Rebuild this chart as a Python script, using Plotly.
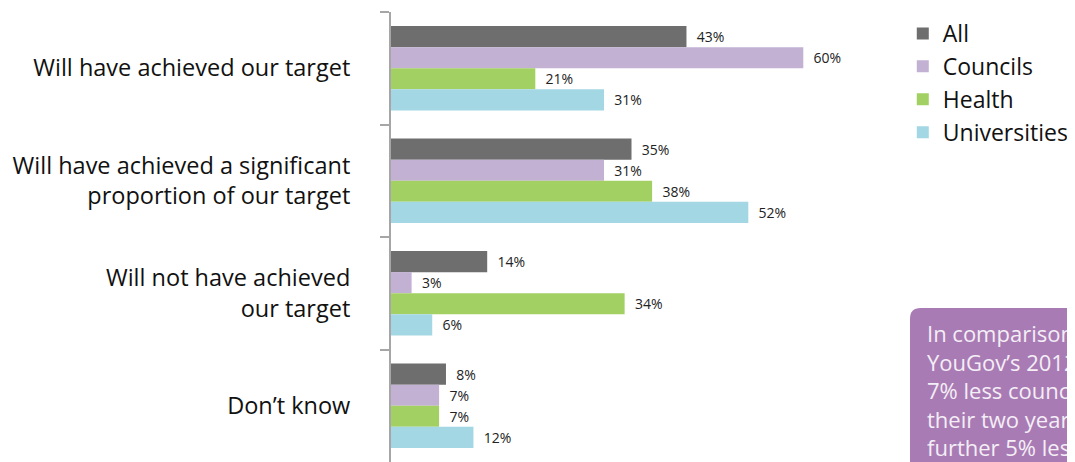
import plotly.graph_objects as go

categories = [
    "Will have achieved our target",
    "Will have achieved a significant<br>proportion of our target",
    "Will not have achieved<br>our target",
    "Don\u2019t know",
]
series_names = ["All", "Councils", "Health", "Universities"]
all_vals = [43, 35, 14, 8]
councils_vals = [60, 31, 3, 7]
health_vals = [21, 38, 34, 7]
universities_vals = [31, 52, 6, 12]
colors = ["#6D6E6D", "#C2B1D3", "#A2D063", "#A3D7E4"]

FONT = "Open Sans"

fig = go.Figure()
for name, vals, col in zip(series_names,
                           [all_vals, councils_vals, health_vals, universities_vals],
                           colors):
    fig.add_trace(go.Bar(
        y=categories, x=vals, name=name, orientation="h",
        marker=dict(color=col, line=dict(width=0)),
        text=vals, texttemplate="  %{x}%", textposition="outside",
        textfont=dict(family=FONT, size=14, color="#222222"),
        cliponaxis=False,
    ))

# page body adds an 8px margin, so the figure is sized to fill the window
fig.update_layout(
    width=1067, height=454,
    margin=dict(l=383, r=203, t=4, b=0, autoexpand=False),
    paper_bgcolor="white", plot_bgcolor="white",
    barmode="group", bargap=0.25, bargroupgap=0,
    font=dict(family=FONT, size=23.5, color="#111111"),
    showlegend=True,
    legend=dict(x=1.064, y=1.0, xanchor="left", yanchor="top",
                font=dict(family=FONT, size=23, color="#111111"),
                itemwidth=30, bgcolor="rgba(0,0,0,0)",
                traceorder="normal"),
    xaxis=dict(range=[0, 70], visible=False),
    yaxis=dict(autorange="reversed", showline=True, linecolor="#A6A6A6",
               linewidth=2, ticks="outside", tickson="boundaries",
               ticklen=9, tickcolor="#A6A6A6", tickwidth=2,
               ticklabelstandoff=34, showgrid=False,
               tickfont=dict(family=FONT, size=23.5, color="#111111")),
)

# callout box (clipped by the page edge as in the reference)
x0, y0 = 1.079, 0.342
rx, ry = 0.022, 0.024
fig.add_shape(type="path", xref="paper", yref="paper",
              path=f"M {x0},-0.2 L {x0},{y0-ry} Q {x0},{y0} {x0+rx},{y0} L 1.6,{y0} L 1.6,-0.2 Z",
              fillcolor="#A97BB4", line=dict(width=0), layer="above")
fig.add_annotation(xref="paper", yref="paper", x=1.110, y=0.325,
                   xanchor="left", yanchor="top", align="left", showarrow=False,
                   text="In comparison to<br>YouGov\u2019s 2012 survey,<br>7% less councils expect to meet<br>their two year target and a<br>further 5% less expect to",
                   font=dict(family=FONT, size=22, color="#F4EEF6"))

fig.write_html("out.html")
